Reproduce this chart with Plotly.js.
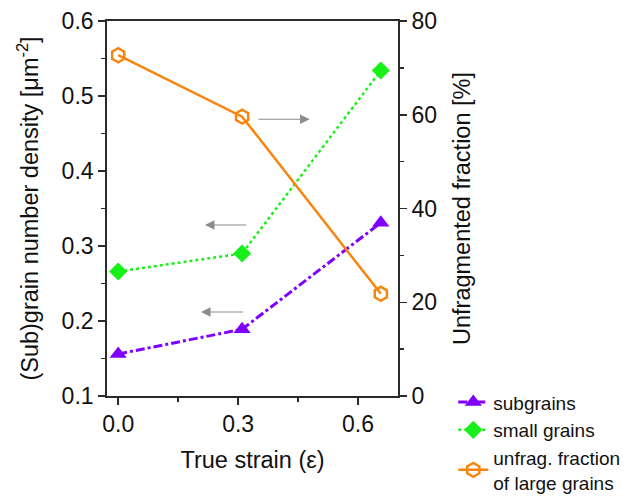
<!DOCTYPE html>
<html>
<head>
<meta charset="utf-8">
<script src="https://cdn.plot.ly/plotly-3.0.1.min.js"></script>
<style>html,body{margin:0;padding:0;background:#fff;}#chart{width:638px;height:496px;}</style>
</head>
<body>
<div id="chart"></div>
<script>
// Data
const strain = [0.0, 0.31, 0.657];
const subgrains = [0.156, 0.189, 0.331];
const smallGrains = [0.266, 0.290, 0.534];
const unfragFraction = [72.7, 59.6, 21.8];

const seriesNames = ['subgrains', 'small grains', 'unfrag. fraction<br>of large grains'];
const xTitle = 'True strain (ε)';
const yLeftTitle = '(Sub)grain number density [μm<sup>-2</sup>]';
const yRightTitle = 'Unfragmented fraction [%]';

// Arrow annotations: [tailX, headX, yLeft]
const arrowsLeft = [[0.324, 0.217, 0.328], [0.316, 0.207, 0.212]];
const arrowsRight = [[0.347, 0.479, 0.469]];

const font = 'Arial, "Liberation Sans", sans-serif';
const axisColor = '#2b2b2b';

const traces = [
  {x: strain, y: subgrains, name: seriesNames[0], mode: 'lines+markers', yaxis: 'y', legendgroup: 'a',
   line: {color: '#8000ff', width: 3, dash: 'dashdot'},
   marker: {symbol: 'triangle-up', size: 15, color: '#8000ff'}},
  {x: strain, y: smallGrains, name: seriesNames[1], mode: 'lines+markers', yaxis: 'y', legendgroup: 'b',
   line: {color: '#19f019', width: 2.5, dash: 'dot'},
   marker: {symbol: 'diamond', size: 14, color: '#19f019'}},
  {x: strain, y: unfragFraction, name: seriesNames[2], mode: 'lines+markers', yaxis: 'y2', legendgroup: 'c',
   line: {color: '#f7860f', width: 2.5},
   marker: {symbol: 'hexagon-open', size: 14, color: '#f7860f', line: {width: 2.5, color: '#f7860f'}}}
];

const annotations = [];
arrowsLeft.concat(arrowsRight).forEach(a => {
  annotations.push({x: a[1], y: a[2], ax: a[0], ay: a[2], xref: 'x', yref: 'y', axref: 'x', ayref: 'y',
    text: '', showarrow: true, arrowhead: 2, arrowsize: 1.6, arrowwidth: 1.2, arrowcolor: '#8c8c8c'});
});

const layout = {
  width: 638, height: 496,
  margin: {l: 107, r: 240, t: 21, b: 100, pad: 0, autoexpand: false},
  paper_bgcolor: '#fff', plot_bgcolor: '#fff',
  font: {family: font, size: 23, color: '#111'},
  showlegend: true,
  legend: {x: 1.19, y: 0.034, xanchor: 'left', yanchor: 'top', font: {size: 19, color: '#111'},
           bgcolor: 'rgba(0,0,0,0)', tracegroupgap: 0, itemwidth: 30},
  xaxis: {range: [-0.028, 0.7], tickvals: [0, 0.3, 0.6], ticktext: ['0.0', '0.3', '0.6'], automargin: false,
          ticks: 'outside', ticklen: 7, tickwidth: 1.5, tickcolor: axisColor, tickfont: {size: 23},
          minor: {tickvals: [0.15, 0.45], ticks: 'outside', ticklen: 4, tickwidth: 1.5, tickcolor: axisColor},
          showline: true, linecolor: axisColor, linewidth: 1.8, mirror: true,
          showgrid: false, zeroline: false, title: {text: xTitle, standoff: 15, font: {size: 23.5}}},
  yaxis: {range: [0.1, 0.6], dtick: 0.1, tickformat: '.1f', automargin: false,
          ticks: 'outside', ticklen: 7, tickwidth: 1.5, tickcolor: axisColor, tickfont: {size: 23},
          minor: {dtick: 0.05, ticks: 'outside', ticklen: 4, tickwidth: 1.5, tickcolor: axisColor},
          showline: true, linecolor: axisColor, linewidth: 1.8,
          showgrid: false, zeroline: false, title: {text: yLeftTitle, standoff: 16, font: {size: 23.5}}},
  yaxis2: {range: [0, 80], dtick: 20, overlaying: 'y', side: 'right', automargin: false,
          ticks: 'outside', ticklen: 7, tickwidth: 1.5, tickcolor: axisColor, tickfont: {size: 23},
          minor: {dtick: 10, ticks: 'outside', ticklen: 4, tickwidth: 1.5, tickcolor: axisColor},
          showline: true, linecolor: axisColor, linewidth: 1.8,
          showgrid: false, zeroline: false, title: {text: yRightTitle, standoff: 17, font: {size: 23.5}}},
  annotations: annotations
};

Plotly.newPlot('chart', traces, layout, {displayModeBar: false, staticPlot: true});
</script>
</body>
</html>
